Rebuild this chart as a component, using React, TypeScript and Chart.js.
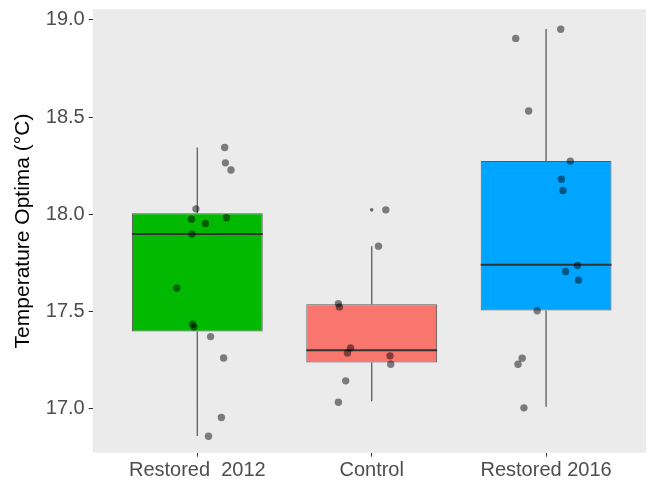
import { useEffect, useRef } from "react";
import { Chart, registerables } from "chart.js";

Chart.register(...registerables);

const CATEGORIES = ["Restored  2012", "Control", "Restored 2016"];
const BOX_COLORS = ["#00B900", "#F8766D", "#00A5FF"];
const Q1 = [17.395, 17.235, 17.503];
const MEDIAN = [17.898, 17.299, 17.739];
const Q3 = [18.005, 17.536, 18.273];
const WHISKER_LOW = [16.857, 17.036, 17.008];
const WHISKER_HIGH = [18.343, 17.835, 18.954];
const OUTLIER_X = [2];
const OUTLIER_Y = [18.022];
const Y_TICKS = [17.0, 17.5, 18.0, 18.5, 19.0];

// jittered observations (x = group position + jitter, y = value)
const R2012_X = [1.157, 1.161, 1.193, 0.992, 0.966, 1.047, 1.167, 0.969, 0.882, 0.973, 0.981, 1.076, 1.151, 1.138, 1.064];
const R2012_Y = [18.343, 18.264, 18.227, 18.027, 17.974, 17.952, 17.981, 17.897, 17.619, 17.433, 17.419, 17.369, 17.259, 16.952, 16.856];
const CONTROL_X = [2.081, 2.039, 1.809, 1.815, 1.879, 1.861, 2.105, 2.109, 1.851, 1.809];
const CONTROL_Y = [18.022, 17.835, 17.539, 17.522, 17.311, 17.285, 17.27, 17.227, 17.141, 17.031];
const R2016_X = [3.084, 2.826, 2.9, 3.139, 3.088, 3.097, 3.18, 3.112, 3.186, 2.949, 2.863, 2.839, 2.873];
const R2016_Y = [18.952, 18.905, 18.531, 18.273, 18.18, 18.122, 17.735, 17.704, 17.66, 17.502, 17.258, 17.227, 17.002];

const FONT = "'Liberation Sans', Arial, sans-serif";

export default function App() {
  const ref = useRef<HTMLCanvasElement>(null);

  useEffect(() => {
    const canvas = ref.current;
    if (!canvas) return;

    const boxData = CATEGORIES.map((_, i) => ({ x: i + 1, y: [Q1[i], Q3[i]] }));
    const whiskerData: any[] = [];
    CATEGORIES.forEach((_, i) => {
      whiskerData.push({ x: i + 1, y: WHISKER_LOW[i] });
      whiskerData.push({ x: i + 1, y: Q1[i] });
      whiskerData.push({ x: i + 1, y: null });
      whiskerData.push({ x: i + 1, y: Q3[i] });
      whiskerData.push({ x: i + 1, y: WHISKER_HIGH[i] });
      whiskerData.push({ x: i + 1, y: null });
    });
    const pts: { x: number; y: number }[] = [];
    [
      [R2012_X, R2012_Y],
      [CONTROL_X, CONTROL_Y],
      [R2016_X, R2016_Y],
    ].forEach(([xs, ys]) => xs.forEach((x, j) => pts.push({ x, y: ys[j] })));
    const outliers = OUTLIER_X.map((x, i) => ({ x, y: OUTLIER_Y[i] }));

    const panelBg = {
      id: "panelBg",
      beforeDraw(chart: any) {
        const { ctx, chartArea } = chart;
        ctx.save();
        ctx.fillStyle = "#EBEBEB";
        ctx.fillRect(chartArea.left, chartArea.top, chartArea.right - chartArea.left, chartArea.bottom - chartArea.top);
        ctx.restore();
      },
    };

    const medianPlugin = {
      id: "medianLines",
      afterDatasetDraw(chart: any, args: any) {
        if (args.meta.type !== "bar") return;
        const { ctx } = chart;
        const yScale = chart.scales.y;
        ctx.save();
        ctx.strokeStyle = "#333333";
        ctx.lineWidth = 2;
        args.meta.data.forEach((el: any, i: number) => {
          const y = yScale.getPixelForValue(MEDIAN[i]);
          ctx.beginPath();
          ctx.moveTo(el.x - el.width / 2, y);
          ctx.lineTo(el.x + el.width / 2, y);
          ctx.stroke();
        });
        ctx.restore();
      },
    };

    const chart = new Chart(canvas, {
      type: "bar",
      data: {
        datasets: [
          {
            type: "scatter",
            data: pts,
            backgroundColor: "rgba(0,0,0,0.48)",
            borderWidth: 0,
            pointRadius: 3.7,
            order: 1,
          } as any,
          {
            type: "scatter",
            data: outliers,
            backgroundColor: "rgba(0,0,0,0.55)",
            borderWidth: 0,
            pointRadius: 1.8,
            order: 2,
          } as any,
          {
            type: "bar",
            data: boxData,
            backgroundColor: BOX_COLORS,
            borderColor: "rgba(51,51,51,0.8)",
            borderWidth: 1,
            borderSkipped: false,
            barPercentage: 0.75,
            categoryPercentage: 1,
            order: 3,
          } as any,
          {
            type: "line",
            data: whiskerData,
            borderColor: "#666666",
            borderWidth: 1.4,
            pointRadius: 0,
            spanGaps: false,
            order: 4,
          } as any,
        ],
      },
      options: {
        animation: false,
        responsive: false,
        layout: { padding: { top: 9.3, left: 0, right: 0, bottom: 0 } },
        plugins: { legend: { display: false }, tooltip: { enabled: false } },
        scales: {
          x: {
            type: "linear",
            min: 0.4,
            max: 3.573,
            offset: false,
            afterBuildTicks: (scale: any) => {
              scale.ticks = CATEGORIES.map((_, i) => ({ value: i + 1 }));
            },
            afterFit: (scale: any) => {
              scale.height = 31.3;
              scale.paddingLeft = 0;
              scale.paddingRight = 0;
            },
            ticks: {
              callback: (v: any) => CATEGORIES[Math.round(v) - 1] ?? "",
              color: "#4d4d4d",
              font: { family: FONT, size: 20 },
              padding: 2,
              maxRotation: 0,
              autoSkip: false,
            },
            grid: { offset: false, drawOnChartArea: false, drawTicks: true, tickLength: 4, tickColor: "#333333" },
            border: { display: false },
          },
          y: {
            type: "linear",
            min: 16.771,
            max: 19.055,
            afterBuildTicks: (scale: any) => {
              scale.ticks = Y_TICKS.map((v) => ({ value: v }));
            },
            afterFit: (scale: any) => {
              scale.width = 92.7;
              scale.paddingTop = 0;
              scale.paddingBottom = 0;
            },
            ticks: {
              callback: (v: any) => Number(v).toFixed(1),
              color: "#4d4d4d",
              font: { family: FONT, size: 20 },
              padding: 4,
            },
            grid: { drawOnChartArea: false, drawTicks: true, tickLength: 4, tickColor: "#333333" },
            border: { display: false },
            title: {
              display: true,
              text: "Temperature Optima (°C)",
              color: "#000000",
              font: { family: FONT, size: 21 },
              padding: { top: 10.4, bottom: 0 },
            },
          },
        },
      },
      plugins: [panelBg, medianPlugin],
    } as any);

    return () => chart.destroy();
  }, []);

  return (
    <div style={{ position: "fixed", left: 0, top: 0, width: 650, height: 484, background: "#ffffff" }}>
      <canvas ref={ref} width={650} height={484} style={{ display: "block", width: 650, height: 484 }} />
    </div>
  );
}
